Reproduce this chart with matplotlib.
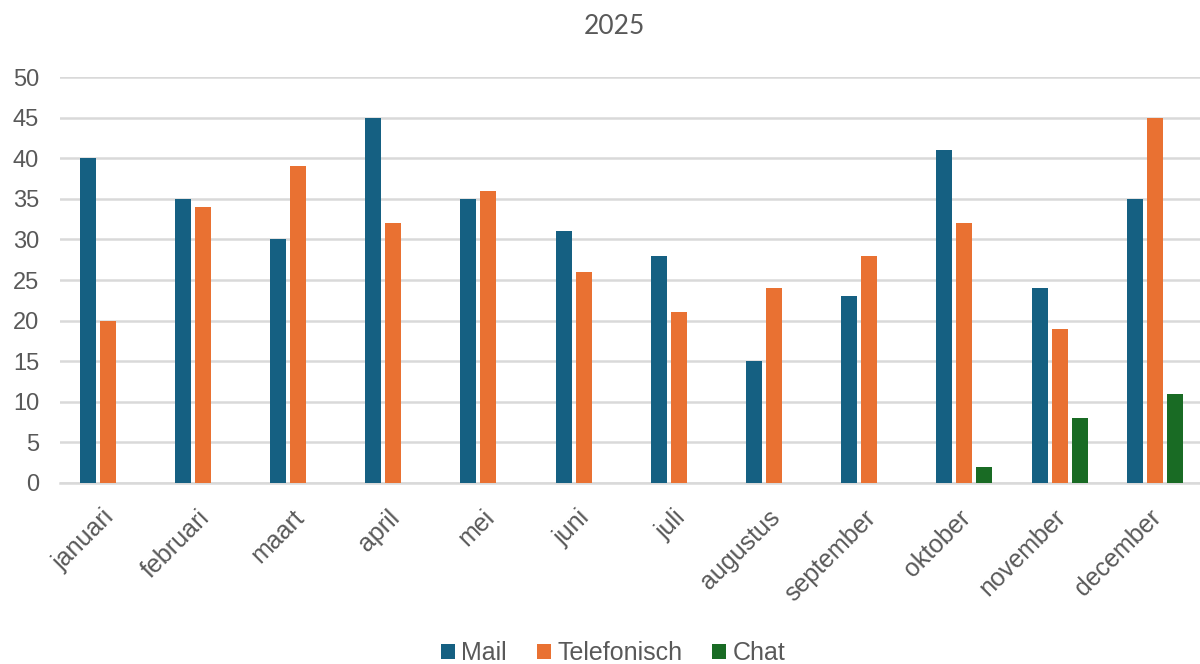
import numpy as np
import matplotlib.pyplot as plt
from matplotlib.transforms import ScaledTranslation

maanden = ['januari', 'februari', 'maart', 'april', 'mei', 'juni', 'juli',
           'augustus', 'september', 'oktober', 'november', 'december']
mail = [40, 35, 30, 45, 35, 31, 28, 15, 23, 41, 24, 35]
telefonisch = [20, 34, 39, 32, 36, 26, 21, 24, 28, 32, 19, 45]
chat = [0, 0, 0, 0, 0, 0, 0, 0, 0, 2, 8, 11]

kleuren = ['#156082', '#E97132', '#196B24']
grijs = '#595959'

fig = plt.figure(figsize=(12, 6.64), dpi=100)
ax = fig.add_axes([0.05, 0.2726, 0.952, 0.6114])

x = np.arange(len(maanden))
w = 0.168
stap = 0.21
ax.bar(x - stap, mail, w, color=kleuren[0], label='Mail', zorder=3)
ax.bar(x, telefonisch, w, color=kleuren[1], label='Telefonisch', zorder=3)
ax.bar(x + stap, chat, w, color=kleuren[2], label='Chat', zorder=3)

ax.set_xlim(-0.5, len(maanden) - 0.5)
ax.set_ylim(0, 50)
ax.set_yticks(range(0, 51, 5))
ax.yaxis.grid(True, color='#D9D9D9', linewidth=1.8, zorder=0)
ax.set_axisbelow(True)
for s in ['top', 'right', 'left']:
    ax.spines[s].set_visible(False)
ax.spines['bottom'].set_color('#D9D9D9')
ax.spines['bottom'].set_linewidth(1.8)
ax.tick_params(length=0, colors=grijs, labelsize=17)
ax.tick_params(axis='x', labelsize=18, pad=16)
ax.tick_params(axis='y', pad=15)

ax.set_xticks(x)
ax.set_xticklabels(maanden, rotation=45, ha='right', va='top',
                   rotation_mode='anchor', fontfamily='Liberation Sans')
for lbl in ax.get_yticklabels():
    lbl.set_fontfamily('Liberation Sans')
# labels een klein stukje naar links schuiven
for lbl in ax.get_xticklabels():
    lbl.set_transform(lbl.get_transform() + ScaledTranslation(-0.06, 0, fig.dpi_scale_trans))

fig.text(0.512, 0.96, '2025', ha='center', va='center', fontsize=19,
         color=grijs, fontfamily='Lato')

leg = fig.legend(loc='center', bbox_to_anchor=(0.511, 0.016), ncol=3,
                 frameon=False, handlelength=0.56, handleheight=0.56,
                 handletextpad=0.25, columnspacing=1.2,
                 prop={'family': 'Liberation Sans', 'size': 18})
for t in leg.get_texts():
    t.set_color(grijs)

fig.savefig('out.png', dpi=100)
